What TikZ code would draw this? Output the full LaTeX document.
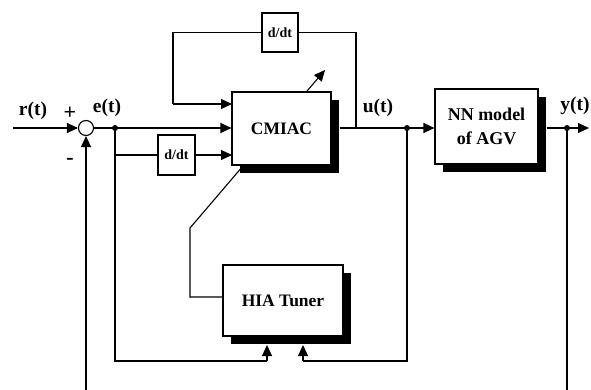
\documentclass[tikz,border=0pt]{standalone}
\usepackage{fontspec}
\setmainfont{Liberation Serif}
\usetikzlibrary{arrows.meta,shadows}
\begin{document}
\begin{tikzpicture}[x=1pt,y=-1pt,
  line width=1.1pt,
  >={Triangle[length=11pt,width=10pt]},
  blk/.style={draw,fill=white,rectangle,inner sep=0pt,
    drop shadow={fill=black,opacity=1,shadow xshift=8pt,shadow yshift=-8pt}},
  big/.style={font=\fontsize{17.5}{24}\selectfont\bfseries},
  lbl/.style={font=\fontsize{19.5}{22}\selectfont\bfseries,inner sep=0pt},
  sgn/.style={font=\fontsize{22}{22}\selectfont\bfseries,inner sep=0pt},
  ddt/.style={draw,fill=white,rectangle,inner sep=0pt,font=\fontsize{14}{16}\selectfont\bfseries},
  dot/.style={circle,fill=black,inner sep=0pt,minimum size=6pt}]
\useasboundingbox (0,0) rectangle (591,390);
% tuner block and adaptive arrow (drawn before CMIAC so the block hides it)
\node[blk,big,minimum width=120pt,minimum height=71pt] (hia) at (283,300.5) {HIA Tuner};
\coordinate (k1) at (190,297);
\coordinate (k2) at (190,228);
\coordinate (tip) at (325,70);
\draw[->,draw=black] (k1 -| hia.west) -- (k1) -- (k2) -- (tip);
% blocks
\node[blk,big,minimum width=99pt,minimum height=73pt] (cm) at (281.5,128.5) {CMIAC};
\node[blk,big,minimum width=103pt,minimum height=75pt,align=center,font=\fontsize{18}{24}\selectfont\bfseries] (nn) at (486.5,126.5) {NN model\\of AGV};
\node[ddt,minimum width=36pt,minimum height=39pt] (d1) at (280,32.5) {d/dt};
\node[ddt,minimum width=37pt,minimum height=40pt] (d2) at (176.5,155) {d/dt};
\node[draw,circle,fill=white,minimum size=15pt,inner sep=0pt] (sum) at (86,128) {};
% coordinates
\coordinate (rin) at (13,128);
\coordinate (ej) at (115,128);
\coordinate (ed) at (115,155);
\coordinate (eb) at (115,361);
\coordinate (hb1) at (267,361);
\coordinate (hin1) at (267,345);
\coordinate (uj) at (407,128);
\coordinate (ub) at (407,361);
\coordinate (hb2) at (303,361);
\coordinate (hin2) at (303,345);
\coordinate (ut) at (356,128);
\coordinate (uu) at (356,32.5);
\coordinate (tl) at (173,32.5);
\coordinate (tb) at (173,104);
\coordinate (cin1) at (232,104);
\coordinate (cin3) at (232,155);
\coordinate (yj) at (567,128);
\coordinate (yo) at (589,128);
\coordinate (yb) at (567,390);
\coordinate (fb) at (86,390);
% signal lines
\draw[->] (rin) -- (sum.west);
\draw[->] (sum.east) -- (cm.west |- ej);
\draw[->] (fb) -- (sum.south);
\draw (ej) -- (eb) -- (hb1);
\draw[->] (hb1) -- (hin1);
\draw (ed) -- (d2.west);
\draw[->] (d2.east) -- (cin3);
\draw[->] (cm.east |- ut) ++(8,0) -- (nn.west |- ut);
\draw (ut) -- (uu) -- (d1.east);
\draw (d1.west) -- (tl) -- (tb);
\draw[->] (tb) -- (cin1);
\draw (uj) -- (ub) -- (hb2);
\draw[->] (hb2) -- (hin2);
\draw[->] (nn.east |- yj) ++(8,0) -- (yo);
\draw (yj) -- (yb);
\node[dot] (dE) at (ej) {};
\node[dot] (dU) at (uj) {};
\node[dot] (dY) at (yj) {};
% labels
\node[lbl] (lr) at (33,111) {r(t)};
\node[sgn] (lp) at (70,113) {+};
\node[sgn] (lm) at (70,161) {-};
\node[lbl] (le) at (107,108) {e(t)};
\node[lbl] (lu) at (378,108) {u(t)};
\node[lbl] (ly) at (575,106) {y(t)};
\end{tikzpicture}
\end{document}
